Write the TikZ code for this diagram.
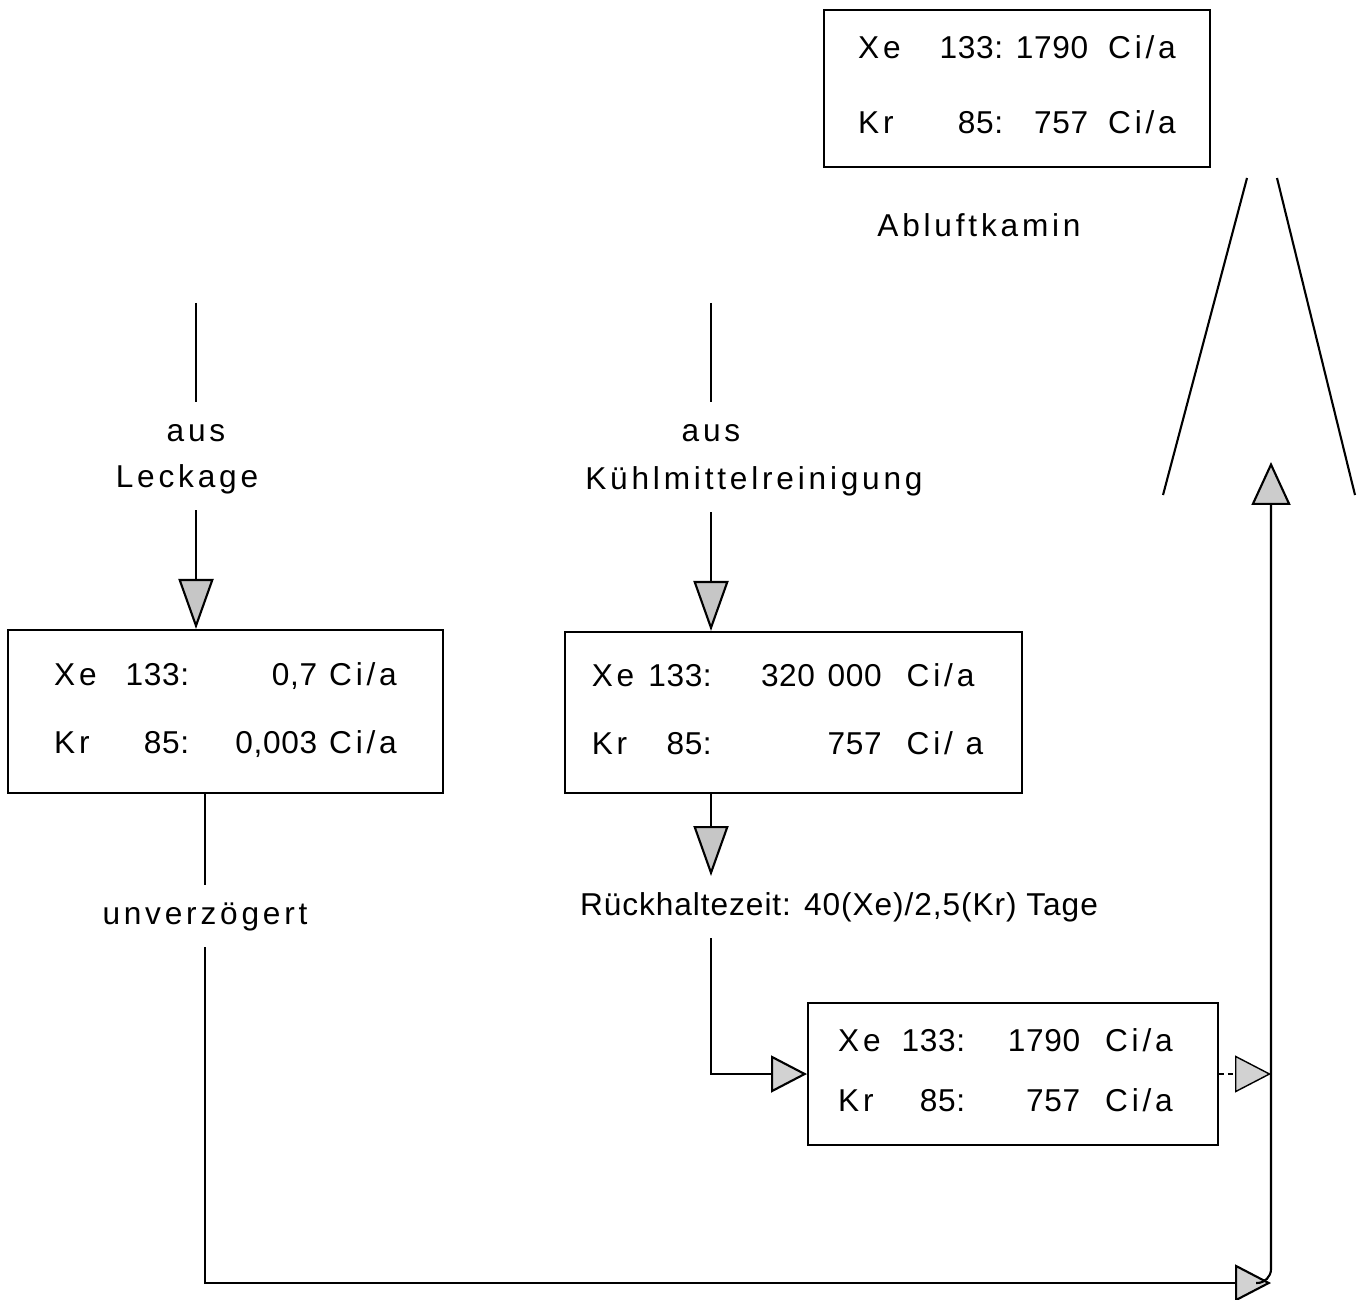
\documentclass[tikz,border=0pt]{standalone}
\usepackage{fontspec}
\setmainfont[LetterSpace=12]{Liberation Sans}
\usepackage{array}
\usepackage{tikz}
\usetikzlibrary{arrows.meta,positioning}
\newcolumntype{N}[1]{>{\raggedleft\addfontfeature{LetterSpace=2}\arraybackslash}p{#1}}
\newcolumntype{L}[1]{>{\raggedright\arraybackslash}p{#1}}

\begin{document}
\begin{tikzpicture}[
  x=0.02cm, y=-0.02cm,
  every node/.style={font=\fontsize{18}{22}\selectfont},
  store/.style={draw, line width=1.2pt, inner sep=0pt},
  flowtext/.style={anchor=base, text height=13pt, text depth=4pt, inner ysep=9pt},
  pipe/.style={line width=1.2pt},
  flow/.style={pipe, -{Triangle[length=1.0cm, width=0.7cm, fill=gray!45]}},
  flowsmall/.style={pipe, -{Triangle[length=0.72cm, width=0.74cm, fill=gray!35]}},
  flowup/.style={pipe, -{Triangle[length=0.86cm, width=0.78cm, fill=gray!40]}},
]
\useasboundingbox (0,0) rectangle (1358,1300);

% boxes
\node[store, minimum width=7.72cm, minimum height=3.14cm] (kamin) at (1017,88.5) {%
  \begin{tabular}{@{}L{0.9cm}@{}N{2.0cm}@{}N{1.7cm}@{\hspace{0.4cm}}l@{}}
  Xe & 133: & 1790 & Ci/a\\[21pt]
  Kr & 85: & 757 & Ci/a
  \end{tabular}};
\node[store, minimum width=8.7cm, minimum height=3.26cm] (leckbox) at (225.5,711.5) {%
  \begin{tabular}{@{}L{1.0cm}@{}N{1.7cm}@{}N{2.56cm}@{\hspace{0.24cm}}l@{}}
  Xe & 133: & 0,7 & Ci/a\\[16.6pt]
  Kr & 85: & 0,003 & Ci/a
  \end{tabular}};
\node[store, minimum width=9.14cm, minimum height=3.22cm] (kuehlbox) at (793.5,712.5) {%
  \begin{tabular}{@{}L{1.0cm}@{}N{1.4cm}@{}N{3.4cm}@{\hspace{0.5cm}}l@{\hspace{0.24cm}}}
  Xe & 133: & 320\hspace{0.4em}000 & Ci/a\\[16.6pt]
  Kr & 85: & 757 & Ci/ a
  \end{tabular}};
\node[store, minimum width=8.2cm, minimum height=2.84cm] (rueckbox) at (1013,1074) {%
  \begin{tabular}{@{}L{1.0cm}@{}N{1.54cm}@{}N{2.3cm}@{\hspace{0.5cm}}l@{\hspace{0.3cm}}}
  Xe & 133: & 1790 & Ci/a\\[12pt]
  Kr & 85: & 757 & Ci/a
  \end{tabular}};

% texts
\node[flowtext] (abluft) at (979,237) {Abluftkamin};
\node[flowtext] (aus1) at (196,441) {aus};
\node[flowtext] (leck) at (187,487) {Leckage};
\node[flowtext] (aus2) at (711,441) {aus};
\node[flowtext] (kuehl) at (754,489) {Kühlmittelreinigung};
\node[flowtext] (unv) at (205,924) {unverzögert};
\node[flowtext] (zeit) at (839,915) {\addfontfeature{LetterSpace=3}Rückhaltezeit: 40(Xe)/2,5(Kr) Tage};

\coordinate (lin) at (196,303);
\coordinate (kin) at (711,303);
\coordinate (sammel) at (1271,1283);
\coordinate (schlot) at (1271,462);

% chimney
\draw[pipe] (1247,178) -- (1163,495);
\draw[pipe] (1277,178) -- (1355,495);

% flows
\draw[pipe] (lin) -- (aus1.north);
\draw[flow] (lin |- leck.south) -- (lin |- leckbox.north);
\draw[pipe] (kin) -- (aus2.north);
\draw[flow] (kin |- kuehl.south) -- (kin |- kuehlbox.north);
\draw[pipe] (leckbox.south -| unv.north) -- (unv.north);
\draw[flowsmall] (unv.south) |- (sammel);
\draw[flowup, rounded corners=8pt] ([xshift=-0.3cm]sammel) -| (schlot);
\draw[flow] (kuehlbox.south -| kin) -- (zeit.north -| kin);
\draw[flowsmall] (zeit.south -| kin) |- (rueckbox.west);
\draw[flowsmall, densely dashed, line width=0.8pt] (rueckbox.east) -- (rueckbox.east -| schlot);
\end{tikzpicture}
\end{document}
